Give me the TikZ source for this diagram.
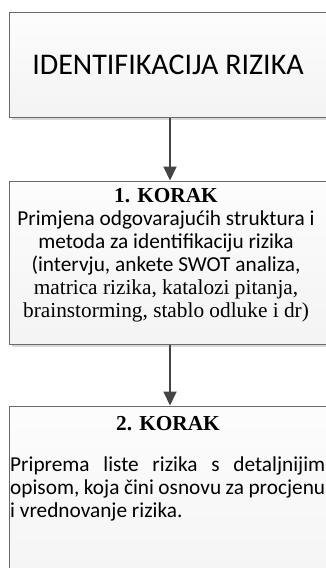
\documentclass[tikz,border=0pt]{standalone}
\usepackage{fontspec}
\setmainfont{Carlito}
\newfontfamily\calfont{Carlito}
\newfontfamily\tnrfont{Liberation Serif}
\usetikzlibrary{arrows.meta}
\definecolor{boxline}{HTML}{6A6A6A}
\definecolor{arrowcol}{HTML}{454545}
\definecolor{shadowcol}{HTML}{D9D9D9}
\newcommand{\bodysize}{\fontsize{21.3}{23}\selectfont}
\tikzset{
  stepbox/.style={draw=boxline, line width=1pt, top color=gray!2, bottom color=gray!9, inner sep=0pt},
  boxshadow/.style={fill=shadowcol, draw=none},
  flowarrow/.style={draw=arrowcol, line width=2pt, -{Triangle[length=14pt,width=13pt]}},
}
\begin{document}
\begin{tikzpicture}[x=1pt,y=-1pt]
\useasboundingbox (0,0) rectangle (326,568);
\clip (0,0) rectangle (326,568);
% shadows
\fill[boxshadow] (12,15) rectangle (334,120);
\fill[boxshadow] (12,184) rectangle (334,347);
\fill[boxshadow] (12,409) rectangle (334,620);
% boxes
\node[stepbox, minimum width=322pt, minimum height=105pt] (b1) at (170,64.5) {};
\node[stepbox, minimum width=322pt, minimum height=163pt] (b2) at (170,262.5) {};
\node[stepbox, minimum width=322pt, minimum height=200pt] (b3) at (170,506) {};
% texts
\node[anchor=base, font=\calfont\fontsize{30}{36}\selectfont, inner sep=0pt] (t1) at (168,74) {IDENTIFIKACIJA RIZIKA};
\node[inner sep=0pt, font=\bodysize, anchor=north, align=center] (t2) at (166,188.6)
 {{\tnrfont\bfseries 1. KORAK}\\
  {\calfont Primjena odgovarajućih struktura i}\\
  {\calfont metoda za identifikaciju rizika}\\
  {\calfont (intervju, ankete SWOT analiza,}\\
  {\tnrfont matrica rizika, katalozi pitanja,}\\
  {\tnrfont brainstorming, stablo odluke i dr)}};
\node[inner sep=0pt, anchor=base, font=\tnrfont\bfseries\bodysize] (h3) at (168,430) {2. KORAK};
\node[inner sep=0pt, anchor=north west, text width=315pt, align=justify, font=\calfont\bodysize] (t3) at (10,457)
 {Priprema liste rizika s detaljnijim\linebreak opisom, koja čini osnovu za procjenu\linebreak i vrednovanje rizika.};
% arrows
\draw[flowarrow] (b1.south) -- (b2.north);
\draw[flowarrow] (b2.south) -- (b3.north);
\end{tikzpicture}
\end{document}
